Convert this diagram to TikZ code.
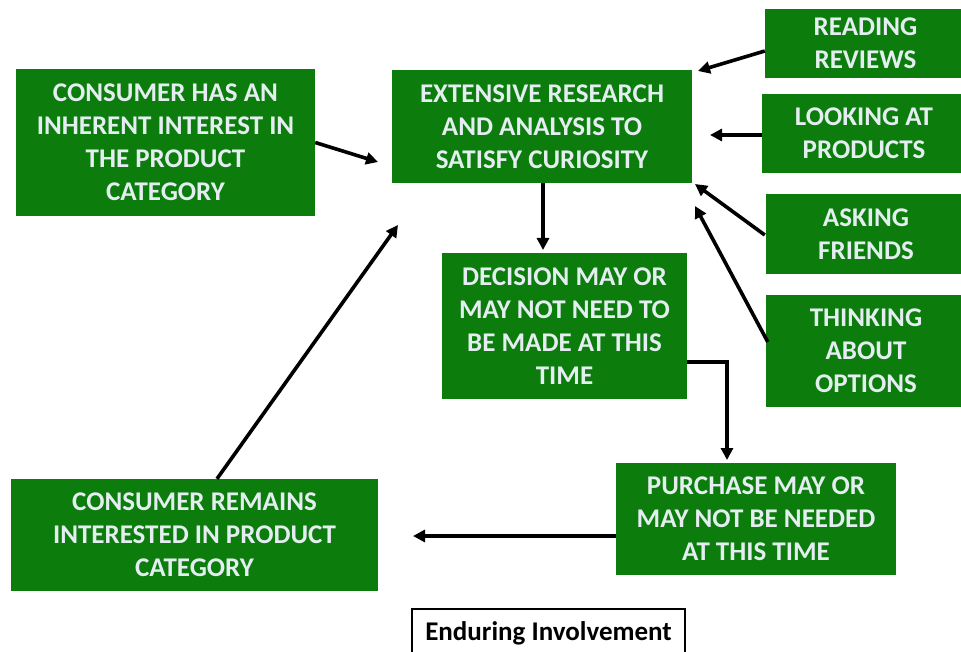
\documentclass[tikz,border=0pt]{standalone}
\usepackage{fontspec}
\setmainfont{Carlito}
\usetikzlibrary{arrows.meta}

\definecolor{boxgreen}{RGB}{12,124,12}
\definecolor{boxtext}{RGB}{228,238,240}

\tikzset{
  stage/.style={fill=boxgreen, draw=none, text=boxtext, align=center, inner sep=0pt,
    font=\fontsize{27}{33}\selectfont\bfseries},
  arr/.style={draw=black, line width=3.6pt, -{Triangle[length=12pt,width=12pt]}},
  caption/.style={draw=black, line width=1.3pt, fill=white, align=center, inner sep=0pt,
    font=\fontsize{27}{33}\selectfont\bfseries}
}

\begin{document}
\begin{tikzpicture}[x=1pt, y=-1pt]
  \useasboundingbox (0,0) rectangle (961,652);
  \clip (0,0) rectangle (961,652);

  % process stages
  \node[stage, minimum width=299pt, minimum height=147pt] (interest) at (165.5,142.5)
    {CONSUMER HAS AN\\INHERENT INTEREST IN\\THE PRODUCT\\CATEGORY};
  \node[stage, minimum width=300pt, minimum height=113pt] (research) at (542,126.5)
    {EXTENSIVE RESEARCH\\AND ANALYSIS TO\\SATISFY CURIOSITY};
  \node[stage, minimum width=245pt, minimum height=146pt] (decision) at (564.5,326)
    {DECISION MAY OR\\MAY NOT NEED TO\\BE MADE AT THIS\\TIME};
  \node[stage, minimum width=280pt, minimum height=112pt] (purchase) at (756,519)
    {PURCHASE MAY OR\\MAY NOT BE NEEDED\\AT THIS TIME};
  \node[stage, minimum width=367pt, minimum height=112pt] (remains) at (194.5,535)
    {CONSUMER REMAINS\\INTERESTED IN PRODUCT\\CATEGORY};

  % research activities
  \node[stage, minimum width=201pt, minimum height=69pt] (reading) at (865.5,43.5)
    {READING\\REVIEWS};
  \node[stage, minimum width=204pt, minimum height=79pt] (looking) at (864,133.5)
    {LOOKING AT\\PRODUCTS};
  \node[stage, minimum width=200pt, minimum height=80pt] (asking) at (866,234)
    {ASKING\\FRIENDS};
  \node[stage, minimum width=200pt, minimum height=112pt] (thinking) at (866,351)
    {THINKING\\ABOUT\\OPTIONS};

  % title
  \node[caption, minimum width=273pt, minimum height=49pt] (title) at (548.5,633.5)
    {Enduring Involvement};

  % arrow ends that stop short of their boxes
  \coordinate (inA) at (378,162);
  \coordinate (inB) at (698,71);
  \coordinate (inC) at (710,135);
  \coordinate (inD) at (695,184);
  \coordinate (inE) at (695,206);
  \coordinate (inF) at (543,250);
  \coordinate (bend) at (727,362);
  \coordinate (inG) at (727,460);
  \coordinate (inH) at (413,536);
  \coordinate (inI) at (398,225);

  % connectors (shifts are in page direction: negative yshift moves down)
  \draw[arr] (interest.east) -- (inA);
  \draw[arr] ([yshift=-7.5pt]reading.west) -- (inB);
  \draw[arr] ([yshift=-1.5pt]looking.west) -- (inC);
  \draw[arr] ([xshift=-1pt,yshift=-1pt]asking.west) -- (inD);
  \draw[arr] ([xshift=2pt,yshift=9pt]thinking.west) -- (inE);
  \draw[arr] (research.south -| inF) -- (inF);
  \draw[arr] (decision.east |- bend) -- (bend) -- (inG);
  \draw[arr] (purchase.west |- inH) -- (inH);
  \draw[arr] ([xshift=22.5pt]remains.north) -- (inI);
\end{tikzpicture}
\end{document}
